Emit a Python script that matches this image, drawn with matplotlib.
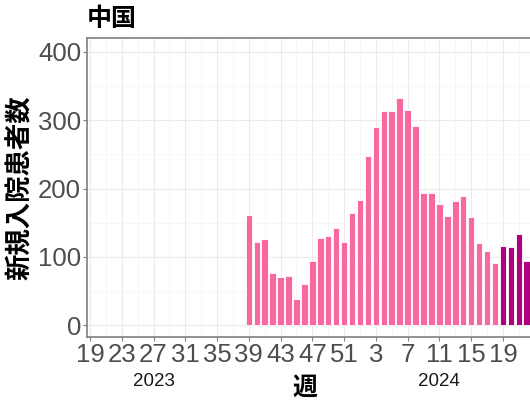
import numpy as np
import matplotlib
matplotlib.use("Agg")
import matplotlib.pyplot as plt
import matplotlib.transforms as mtransforms

# 週 (2023年19週〜2024年22週)
weeks_2023 = list(range(19, 53))
weeks_2024 = list(range(1, 23))

# 新規入院患者数（2023年は39週から）
cases_2023 = [np.nan] * 20 + [161, 122, 126, 76, 71, 72, 38, 60, 94, 127, 131, 142, 121, 164]
cases_2024 = [183, 248, 290, 314, 313, 332, 315, 292, 194, 193, 178, 160, 181, 189,
              159, 120, 109, 91, 116, 115, 133, 94]
recent_from = 19  # 2024年19週以降は濃い色

week_labels = [str(w) for w in weeks_2023 + weeks_2024]
values = cases_2023 + cases_2024
colors = ['#F768A1'] * (len(cases_2023) + recent_from - 1) + \
         ['#AE017E'] * (len(cases_2024) - recent_from + 1)

jp = ['Noto Sans CJK JP', 'DejaVu Sans']
num = ['Liberation Sans', 'DejaVu Sans']

fig = plt.figure(figsize=(5.3, 4.07), dpi=100)
px = 7.94
x_left = -0.42
x_right = 60
ax = fig.add_axes([86.7 / 530, (407 - 337) / 407,
                   (x_right - x_left) * px / 530, 299 / 407])

x = np.arange(len(values))
ax.bar(x, values, width=0.82, color=colors, edgecolor='white', linewidth=0.6, zorder=3)

ax.set_xlim(x_left, x_right)
ax.set_ylim(-17.5, 420.5)
ax.set_yticks([0, 100, 200, 300, 400])
ax.set_yticks([50, 150, 250, 350], minor=True)
ax.set_xticks(x[::4])
ax.set_xticklabels(week_labels[::4])
ax.set_xticks(x[2::4], minor=True)

ax.grid(True, which='major', color='#EBEBEB', linewidth=0.8, zorder=0)
ax.grid(True, which='minor', color='#F4F4F4', linewidth=0.5, zorder=0)
for s in ax.spines.values():
    s.set_color('#7F7F7F')
    s.set_linewidth(1.2)
ax.tick_params(which='major', length=3, color='#7F7F7F', labelcolor='#4D4D4D',
               labelsize=18.5, pad=1)
ax.tick_params(which='minor', length=0)
for lab in ax.get_xticklabels() + ax.get_yticklabels():
    lab.set_family(num)

ax.set_ylabel('新規入院患者数', family=jp, fontsize=19, fontweight='bold', labelpad=3)

fig.text(87 / 530, 1 - 19 / 407, '中国', family=jp, fontsize=18, fontweight='bold',
         ha='left', va='center')
fig.text(305 / 530, 1 - 388 / 407, '週', family=jp, fontsize=18, fontweight='bold',
         ha='center', va='center')

trans = mtransforms.blended_transform_factory(ax.transData, fig.transFigure)
ax.text(week_labels.index('27'), 1 - 382 / 407, '2023', transform=trans, family=num,
        fontsize=13.5, color='#1A1A1A', ha='center', va='center')
ax.text(len(weeks_2023) + weeks_2024.index(11), 1 - 382 / 407, '2024', transform=trans,
        family=num, fontsize=13.5, color='#1A1A1A', ha='center', va='center')

fig.savefig('out.png', dpi=100)
